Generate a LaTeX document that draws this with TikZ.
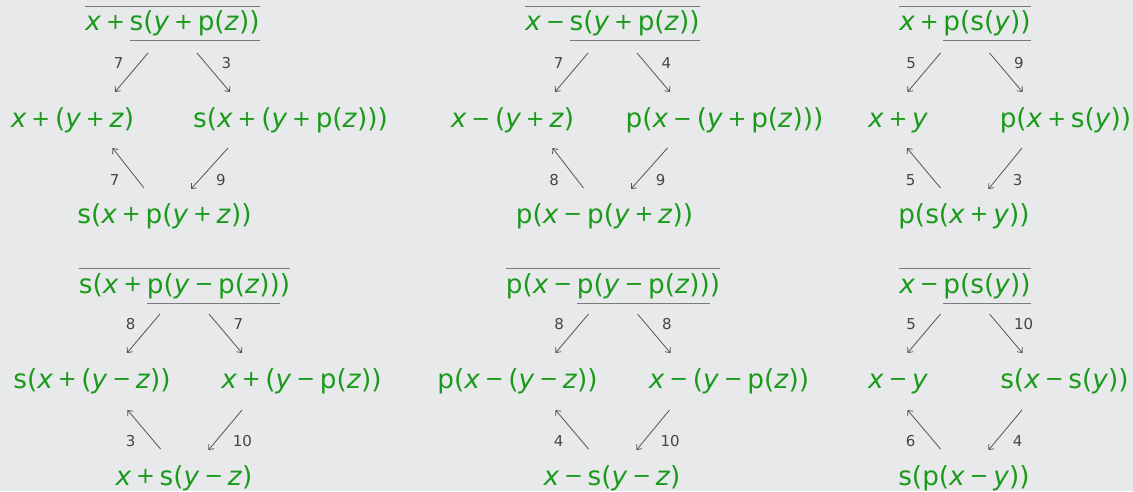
\documentclass[tikz,border=0pt]{standalone}
\usepackage{fontspec}
\setmainfont{DejaVu Sans}
\usepackage{tikz}
\usetikzlibrary{positioning,arrows.meta,calc}
\usepackage{xcolor}
\definecolor{rwgreen}{HTML}{1A9A1A}
\definecolor{rwback}{HTML}{E8E9EB}
\definecolor{rwlabel}{HTML}{454545}
\definecolor{rwarrow}{HTML}{555555}
\definecolor{rwbar}{HTML}{7A7A7A}

% variables and operators
\newcommand{\vx}{\textit{x}}
\newcommand{\vy}{\textit{y}}
\newcommand{\vz}{\textit{z}}
\newcommand{\opsym}[1]{\hspace{.12em}\makebox[.838em]{\raisebox{.06em}{\fontsize{22.5}{22.5}\selectfont #1}}\hspace{.12em}}
\newcommand{\opp}{\opsym{+}}
\newcommand{\opm}{\opsym{−}}
% gray underline of a sub-term
\newcommand{\undr}[1]{\setbox0\hbox{#1}\rlap{\color{rwbar}\rule[-10.5pt]{\wd0}{1pt}}\box0}

\begin{document}
\begin{tikzpicture}[
    x=1pt, y=1pt,
    term/.style={inner sep=0pt, anchor=base, text=rwgreen, font=\fontsize{26.3}{32}\selectfont},
    lbl/.style={inner sep=0pt, text=rwlabel, font=\fontsize{15}{18}\selectfont},
    arr/.style={-{Straight Barb[length=4pt,width=7pt]}, line width=0.8pt, color=rwarrow},
    bar/.style={line width=1pt, color=rwbar},
]
\useasboundingbox (0,0) rectangle (1133,491);
\fill[rwback] (0,0) rectangle (1133,491);

% === Diagram 1: x + s(y + p(z)) ===
\node[term] (t1) at (172.5,460) {\vx\opp\undr{s(\vy\opp p(\vz))}};
\node[term] (l1) at (72.5,363) {\vx\opp(\vy\opp\vz)};
\node[term] (r1) at (290.5,363) {s(\vx\opp(\vy\opp p(\vz)))};
\node[term] (b1) at (164.5,268) {s(\vx\opp p(\vy\opp\vz))};
\draw[bar] ([yshift=4.5pt]t1.north west) -- ([yshift=4.5pt]t1.north east);
\draw[arr] ([shift={(-24.5,-22)}]t1.base) -- ([shift={(-57.5,-61)}]t1.base) node[lbl, pos=.25, left=16pt] {7};
\draw[arr] ([shift={(24.5,-22)}]t1.base) -- ([shift={(57.5,-61)}]t1.base) node[lbl, pos=.25, right=16pt] {3};
\draw[arr] ([shift={(-20.5,35)}]b1.base) -- ([shift={(-52,75)}]b1.base) node[lbl, pos=.2, left=18pt] {7};
\draw[arr] ([shift={(63.5,75)}]b1.base) -- ([shift={(26.5,34)}]b1.base) node[lbl, pos=.78, right=16.5pt] {9};

% === Diagram 2: x - s(y + p(z)) ===
\node[term] (t2) at (612.5,460) {\vx\opm\undr{s(\vy\opp p(\vz))}};
\node[term] (l2) at (512.5,363) {\vx\opm(\vy\opp\vz)};
\node[term] (r2) at (724.5,363) {p(\vx\opm(\vy\opp p(\vz)))};
\node[term] (b2) at (604.5,268) {p(\vx\opm p(\vy\opp\vz))};
\draw[bar] ([yshift=4.5pt]t2.north west) -- ([yshift=4.5pt]t2.north east);
\draw[arr] ([shift={(-24.5,-22)}]t2.base) -- ([shift={(-57.5,-61)}]t2.base) node[lbl, pos=.25, left=16pt] {7};
\draw[arr] ([shift={(24.5,-22)}]t2.base) -- ([shift={(57.5,-61)}]t2.base) node[lbl, pos=.25, right=16pt] {4};
\draw[arr] ([shift={(-21,35)}]b2.base) -- ([shift={(-52,75)}]b2.base) node[lbl, pos=.2, left=18pt] {8};
\draw[arr] ([shift={(63,75)}]b2.base) -- ([shift={(26.5,34)}]b2.base) node[lbl, pos=.78, right=16.5pt] {9};

% === Diagram 3: x + p(s(y)) ===
\node[term] (t3) at (965,460) {\vx\opp\undr{p(s(\vy))}};
\node[term] (l3) at (898,363) {\vx\opp\vy};
\node[term] (r3) at (1065.5,363) {p(\vx\opp s(\vy))};
\node[term] (b3) at (964,268) {p(s(\vx\opp\vy))};
\draw[bar] ([yshift=4.5pt]t3.north west) -- ([yshift=4.5pt]t3.north east);
\draw[arr] ([shift={(-24.5,-22)}]t3.base) -- ([shift={(-57.5,-61)}]t3.base) node[lbl, pos=.25, left=16pt] {5};
\draw[arr] ([shift={(24.5,-22)}]t3.base) -- ([shift={(57.5,-61)}]t3.base) node[lbl, pos=.25, right=16pt] {9};
\draw[arr] ([shift={(-23.5,35)}]b3.base) -- ([shift={(-57,75)}]b3.base) node[lbl, pos=.2, left=18pt] {5};
\draw[arr] ([shift={(58,75)}]b3.base) -- ([shift={(24.5,34)}]b3.base) node[lbl, pos=.78, right=16.5pt] {3};

% === Diagram 4: s(x + p(y - p(z))) ===
\node[term] (t4) at (184.5,198) {s(\vx\opp\undr{p(\vy\opm p(\vz))})};
\node[term] (l4) at (92,103) {s(\vx\opp(\vy\opm\vz))};
\node[term] (r4) at (301.5,103) {\vx\opp(\vy\opm p(\vz))};
\node[term] (b4) at (184,6) {\vx\opp s(\vy\opm\vz)};
\draw[bar] ([yshift=4.5pt]t4.north west) -- ([yshift=4.5pt]t4.north east);
\draw[arr] ([shift={(-24.5,-21)}]t4.base) -- ([shift={(-57.5,-60)}]t4.base) node[lbl, pos=.25, left=16pt] {8};
\draw[arr] ([shift={(24.5,-21)}]t4.base) -- ([shift={(57.5,-60)}]t4.base) node[lbl, pos=.25, right=16pt] {7};
\draw[arr] ([shift={(-23.5,36)}]b4.base) -- ([shift={(-56.5,75)}]b4.base) node[lbl, pos=.2, left=18pt] {3};
\draw[arr] ([shift={(58,75)}]b4.base) -- ([shift={(24.5,35)}]b4.base) node[lbl, pos=.78, right=16.5pt] {10};

% === Diagram 5: p(x - p(y - p(z))) ===
\node[term] (t5) at (613,198) {p(\vx\opm\undr{p(\vy\opm p(\vz))})};
\node[term] (l5) at (517.5,103) {p(\vx\opm(\vy\opm\vz))};
\node[term] (r5) at (729,103) {\vx\opm(\vy\opm p(\vz))};
\node[term] (b5) at (612,6) {\vx\opm s(\vy\opm\vz)};
\draw[bar] ([yshift=4.5pt]t5.north west) -- ([yshift=4.5pt]t5.north east);
\draw[arr] ([shift={(-24.5,-21)}]t5.base) -- ([shift={(-57.5,-60)}]t5.base) node[lbl, pos=.25, left=16pt] {8};
\draw[arr] ([shift={(24.5,-21)}]t5.base) -- ([shift={(57.5,-60)}]t5.base) node[lbl, pos=.25, right=16pt] {8};
\draw[arr] ([shift={(-23.5,36)}]b5.base) -- ([shift={(-56.5,75)}]b5.base) node[lbl, pos=.2, left=18pt] {4};
\draw[arr] ([shift={(57.5,75)}]b5.base) -- ([shift={(24.5,35)}]b5.base) node[lbl, pos=.78, right=16.5pt] {10};

% === Diagram 6: x - p(s(y)) ===
\node[term] (t6) at (965,198) {\vx\opm\undr{p(s(\vy))}};
\node[term] (l6) at (898,103) {\vx\opm\vy};
\node[term] (r6) at (1064.5,103) {s(\vx\opm s(\vy))};
\node[term] (b6) at (964,6) {s(p(\vx\opm\vy))};
\draw[bar] ([yshift=4.5pt]t6.north west) -- ([yshift=4.5pt]t6.north east);
\draw[arr] ([shift={(-24.5,-21)}]t6.base) -- ([shift={(-57.5,-60)}]t6.base) node[lbl, pos=.25, left=16pt] {5};
\draw[arr] ([shift={(24.5,-21)}]t6.base) -- ([shift={(57.5,-60)}]t6.base) node[lbl, pos=.25, right=16pt] {10};
\draw[arr] ([shift={(-23.5,36)}]b6.base) -- ([shift={(-56.5,75)}]b6.base) node[lbl, pos=.2, left=18pt] {6};
\draw[arr] ([shift={(58,75)}]b6.base) -- ([shift={(24.5,35)}]b6.base) node[lbl, pos=.78, right=16.5pt] {4};

\end{tikzpicture}
\end{document}
